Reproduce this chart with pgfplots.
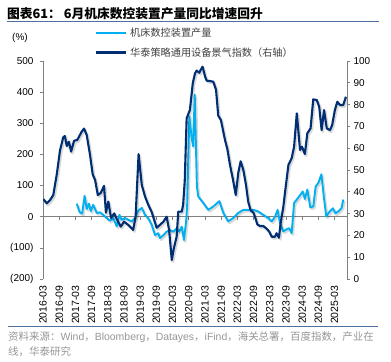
\documentclass[border=0pt]{standalone}
\usepackage{fontspec}
\setmainfont{Liberation Sans}
\newfontfamily\cjk{Noto Sans CJK SC}
\usepackage{pgfplots}
\pgfplotsset{compat=1.18}
\usepackage{pgfplotstable}
\definecolor{darkblue}{RGB}{0,46,115}
\definecolor{lightblue}{RGB}{0,176,240}
\definecolor{rulecol}{RGB}{79,112,163}
\definecolor{axcol}{RGB}{128,128,128}
\definecolor{srccol}{RGB}{150,150,150}
\definecolor{legtext}{RGB}{64,64,64}

\pgfplotstableread{
m v
14.5 42
15.6 14
16.5 10
17.4 67
18.2 25
19 42
19.7 18
20.6 38
21.9 12
23.1 14
24.3 6
25.6 -4
26.8 -13
28 -4
29.3 -31
30.3 6
31.1 -10
32.4 -4
33.6 -10
34.9 -15
36.1 -4
37.3 20
38.6 28
39.8 6
41 -5
42.3 -27
43.5 -59
44.7 -53
45.3 -69
46.6 -59
47.8 -48
49 -43
50.3 -48
51.5 -37
52.5 -48
53.4 -32
54.2 -75
55 -16
55.4 38
56.2 322
57 258
57.6 226
58.2 392
59 97
59.5 65
61.4 44
63.2 22
65.1 33
67.3 50
68.8 12
70.6 -15
72.5 -4
74.3 12
76.2 22
78 22
79.9 22
81.7 17
83.6 6
85.4 -4
86.7 -15
87.9 -1
88.9 22
89.8 -22
91 -47
92.3 -40
93.2 -37
94.1 -53
95 44
96.6 62
98.2 81
99 57
99.9 87
101 30
102.1 33
103 97
104 109
105.1 136
106 65
106.9 1
108.2 17
109.4 27
110.3 11
111.5 18
112.6 28
113.2 55
}\lightdata

\pgfplotstableread{
m v
2.1 36.7
3.4 34.7
4.6 36.2
5.8 38.5
7.1 48
8.3 59
9.5 65
10.1 65.6
10.8 61
11.6 63
12.4 58.4
13.5 63.4
14.7 63.8
16.3 67.5
17.2 69
18.2 66
19.4 57
20.4 48
21.3 45.4
22.3 38.5
23.4 39.5
24.6 42.7
25.3 30.4
26.2 35.5
27.2 28
28.4 30.1
29.5 27
30.8 24
32 26.3
33.6 24.8
35.4 22.5
36.3 28.6
37.4 57.3
38.6 43
39.8 37.8
41 34
42.3 30.6
43.2 27
44.1 23.5
45.3 24.8
46.6 26.3
47.8 28.6
48.7 22.5
49.7 8.7
50.3 13
50.9 16.4
51.5 19.4
52.1 30.9
53.4 30.9
53.9 34
54.5 45
55.2 73.7
56.4 77.5
57.5 90
58.3 94.3
58.9 95.6
59.9 94.6
60.4 95.9
61.1 97.4
62 93
62.6 91
63.9 90.8
65.1 90.5
66.1 86.7
66.9 75
67.9 72.9
69.4 63.8
70.3 59.5
71.3 52
72.3 46
73.4 38.5
74.3 48.5
75.2 54
76.2 50
77.2 43
78 35.5
78.9 31.5
79.9 30.5
80.5 28.6
81.4 25
82.4 24.3
83.6 24.3
84.9 23
85.8 21.7
86.7 19.4
87.9 19.4
88.5 21
89.4 18.9
90 25.5
91 33
91.6 39.3
92.9 52.3
94.1 55.4
95 60.7
96 76
97.2 59.2
97.9 60.7
99 57.3
99.9 66.8
101.1 69.1
102.1 82.4
103.4 82.1
104.3 79
105.2 68.3
106.1 77.5
107.1 69.1
108.3 68.3
109.1 70.6
110.1 77.5
111 81.3
112 79.8
113.2 79.8
114.2 83.6
}\darkdata

\begin{document}
\begin{tikzpicture}
\path[use as bounding box] (0,0) rectangle (391bp,362bp);
\pgfplotsset{base/.style={at={(43bp,83bp)},anchor=south west,scale only axis,
  width=304bp,height=218bp,xmin=2,xmax=114.6,
  tick label style={font=\fontsize{10}{12}\selectfont, text=black},
  /pgf/number format/assume math mode=true,
  major tick length=3bp}}

% title
\node[anchor=west,inner sep=0] at (7bp,348bp) {\cjk\bfseries\fontsize{12.8}{15}\selectfont 图表61： 6月机床数控装置产量同比增速回升};
\draw[rulecol,line width=1bp] (7bp,340bp) -- (379bp,340bp);
\node[anchor=west,inner sep=0,font=\fontsize{10}{12}\selectfont] at (12bp,324bp) {(\%)};
% legend
\draw[lightblue,line width=2.5bp] (96bp,329bp) -- (126bp,329bp);
\node[anchor=west,inner sep=0,text=legtext] at (130bp,329bp) {\cjk\fontsize{10.2}{12}\selectfont 机床数控装置产量};
\draw[darkblue,line width=2.5bp] (96bp,309.5bp) -- (126bp,309.5bp);
\node[anchor=west,inner sep=0,text=legtext] at (130bp,309.5bp) {\cjk\fontsize{10.2}{12}\selectfont 华泰策略通用设备景气指数（右轴）};

% zero line axis
\begin{axis}[base, ymin=-200, ymax=500,
  axis x line=middle, axis y line=none,
  xtick={2,8,...,110}, xticklabels={},
  tick align=center, major tick length=3bp,
  x tick style={axcol, line width=0.6bp, yshift=-1.5bp},
  x axis line style={axcol, line width=0.8bp},
  every inner x axis line/.append style={-}]
\end{axis}

% left axis: light series
\begin{axis}[base, ymin=-200, ymax=500,
  axis y line*=left, axis x line=none,
  ytick={-200,-100,...,500},
  yticklabels={(200),(100),0,100,200,300,400,500},
  tick align=outside,
  y tick style={axcol, line width=0.6bp},
  y axis line style={axcol, line width=0.8bp},
  every outer y axis line/.append style={-},
  yticklabel style={xshift=-3bp}]
\addplot[black, opacity=0.15, line width=2.4bp, line join=round, shift={(1.3bp,-1.6bp)}] table[x=m,y=v] {\lightdata};
\addplot[lightblue, line width=1.9bp, line join=round] table[x=m,y=v] {\lightdata};
\end{axis}

% right axis: dark series
\begin{axis}[base, ymin=0, ymax=100,
  axis y line*=right, axis x line*=bottom,
  x axis line style={draw=none},
  every outer x axis line/.append style={-},
  every outer y axis line/.append style={-},
  ytick={0,10,...,100},
  xtick={2,8,...,110},
  xticklabels={2016-03,2016-09,2017-03,2017-09,2018-03,2018-09,2019-03,2019-09,2020-03,2020-09,2021-03,2021-09,2022-03,2022-09,2023-03,2023-09,2024-03,2024-09,2025-03},
  xticklabel style={rotate=90, anchor=east, font=\fontsize{10.5}{12}\selectfont},
  major x tick style={draw=none},
  tick align=outside,
  y tick style={axcol, line width=0.6bp},
  y axis line style={axcol, line width=0.8bp}]
\addplot[black, opacity=0.15, line width=2.6bp, line join=round, shift={(1.3bp,-1.6bp)}] table[x=m,y=v] {\darkdata};
\addplot[darkblue, line width=2.1bp, line join=round] table[x=m,y=v] {\darkdata};
\end{axis}

% bottom rule and source
\draw[rulecol,line width=1bp] (8bp,35bp) -- (378bp,35bp);
\node[anchor=west,inner sep=0,text=srccol,font=\fontsize{10.5}{12}\selectfont] at (8bp,25bp) {{\cjk 资料来源：}Wind{\cjk ，}Bloomberg{\cjk ，}Datayes{\cjk ，}iFind{\cjk ，海关总署，百度指数，产业在}};
\node[anchor=west,inner sep=0,text=srccol,font=\fontsize{10.5}{12}\selectfont] at (8bp,10bp) {\cjk 线，华泰研究};
\end{tikzpicture}
\end{document}
